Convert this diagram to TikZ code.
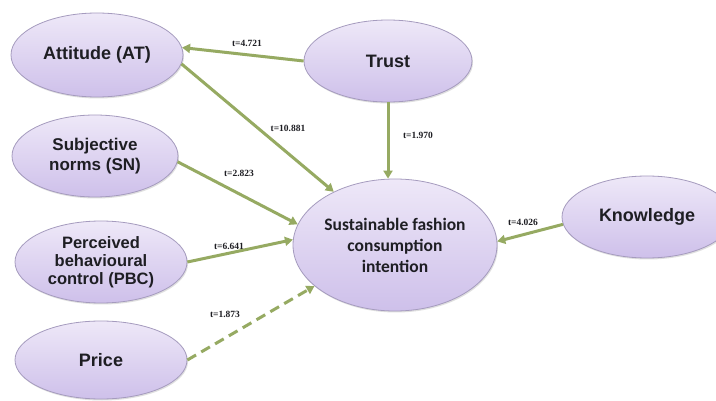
\documentclass[tikz,border=0pt]{standalone}
\usepackage{fontspec}
\setmainfont{Liberation Sans}
\newfontfamily\calib{Carlito}
\newfontfamily\serifb{Liberation Serif}
\usetikzlibrary{arrows.meta,shapes.geometric,shadows}
\definecolor{arr}{RGB}{150,170,98}
\definecolor{elltop}{RGB}{238,232,248}
\definecolor{ellbot}{RGB}{206,192,234}
\definecolor{ellborder}{RGB}{165,155,190}
\definecolor{txt}{RGB}{30,30,35}
\begin{document}
\begin{tikzpicture}[x=1pt,y=-1pt,
  ell/.style={ellipse, draw=ellborder, line width=0.8pt, top color=elltop, bottom color=ellbot,
    inner sep=0pt, align=center, text=txt,
    font=\bfseries\fontsize{17}{19}\selectfont,
    drop shadow={shadow xshift=1pt,shadow yshift=-1.5pt,opacity=0.25}},
  link/.style={draw=arr, line width=3pt, -{Triangle[length=8pt,width=9pt]}},
  tlab/.style={font=\serifb\bfseries\fontsize{9.5}{11}\selectfont, inner sep=1pt, text=txt}
]
\fill[white] (0,0) rectangle (716,401);
\useasboundingbox (0,0) rectangle (716,401);

\node[ell, minimum width=172pt, minimum height=84pt, font=\bfseries\fontsize{18}{20}\selectfont] (at) at (97,55) {Attitude (AT)};
\node[ell, minimum width=168pt, minimum height=82pt, font=\bfseries\fontsize{18}{20}\selectfont] (trust) at (388,61) {Trust};
\node[ell, minimum width=166pt, minimum height=82pt, font=\bfseries\fontsize{17}{20}\selectfont] (sn) at (95,156) {Subjective\\norms (SN)};
\node[ell, minimum width=172pt, minimum height=82pt, font=\bfseries\fontsize{16.5}{18}\selectfont] (pbc) at (101,262) {Perceived\\behavioural\\control (PBC)};
\node[ell, minimum width=172pt, minimum height=78pt, font=\bfseries\fontsize{18}{20}\selectfont] (price) at (101,360) {Price};
\node[ell, minimum width=204pt, minimum height=132pt, font=\calib\bfseries\fontsize{17.5}{21}\selectfont] (c) at (395,245) {Sustainable fashion\\consumption\\intention};
\node[ell, minimum width=170pt, minimum height=82pt, font=\bfseries\fontsize{18}{20}\selectfont] (k) at (647,217) {Knowledge};

\draw[link] (trust.west) -- (at.5);
\draw[link] (at.-6) -- (c.139);
\draw[link] (sn.-4) -- (c.168);
\draw[link] (pbc.east) -- (c.177);
\draw[link, dash pattern=on 10pt off 6pt] (price.east) -- (c.207);
\draw[link] (trust.south) -- (trust.south |- c.north);
\draw[link] (k.185) -- (c.2);

\node[tlab] (l1) at (247,43) {t=4.721};
\node[tlab] (l2) at (288,128) {t=10.881};
\node[tlab] (l3) at (239,173) {t=2.823};
\node[tlab] (l4) at (418,135) {t=1.970};
\node[tlab] (l5) at (229,246) {t=6.641};
\node[tlab] (l6) at (225,314) {t=1.873};
\node[tlab] (l7) at (523,222) {t=4.026};
\end{tikzpicture}
\end{document}
